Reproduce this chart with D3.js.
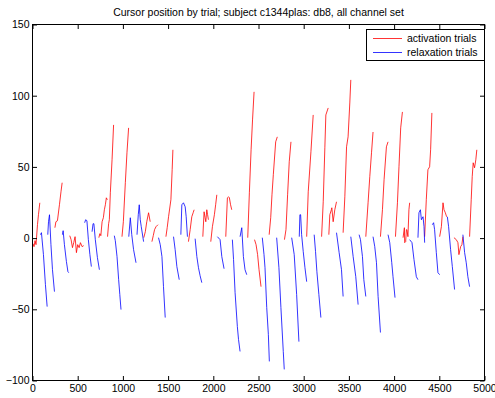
<!DOCTYPE html>
<html><head><meta charset="utf-8">
<script src="https://cdn.jsdelivr.net/npm/d3@7"></script>
<style>
body{margin:0;background:#fff}
svg{display:block}
text{font-family:"Liberation Sans",Arial,Helvetica,sans-serif;fill:#000}
</style>
</head><body>
<svg id="chart" width="495" height="398"></svg>
<script>
const titleText = "Cursor position by trial; subject c1344plas: db8, all channel set";
const xTicks = [0,500,1000,1500,2000,2500,3000,3500,4000,4500,5000];
const yTicks = [-100,-50,0,50,100,150];
const seriesNames = ["activation trials","relaxation trials"];
const seriesColors = ["#ff0000","#0000ff"];

// each trial: [sample, cursor position] pairs
const activationTrials = [
  [[6,-3.9],[17,-6.0],[28,-1.8],[39,-4.6],[55,9.4],[66,16.4],[81,24.8]],
  [[248,7.3],[259,11.5],[276,12.2],[298,23.4],[315,32.5],[328,38.9]],
  [[412,1.7],[427,-1.1],[442,-6.7],[456,-3.2],[471,1.0],[486,-10.2],[500,-4.6],[516,-6.7],[530,-3.2],[549,-6.0],[566,-5.3]],
  [[734,0.3],[745,3.1],[756,1.7],[770,11.5],[784,14.3],[795,19.9],[806,23.4],[817,28.3],[828,26.9]],
  [[830,1.0],[842,10.1],[850,12.9],[861,31.8],[880,55.0],[897,79.5]],
  [[990,1.0],[1005,11.5],[1027,38.9],[1045,59.9],[1063,77.4]],
  [[1231,0.3],[1248,4.5],[1264,11.5],[1284,17.8],[1302,11.5]],
  [[1321,-2.5],[1336,1.7],[1350,5.9],[1366,8.0],[1388,9.4]],
  [[1476,1.0],[1490,7.3],[1505,15.0],[1531,26.9],[1545,48.0],[1553,62.0]],
  [[1725,-2.5],[1744,5.9],[1762,15.0],[1777,17.8],[1788,19.9]],
  [[1884,1.0],[1898,18.5],[1909,14.3],[1917,11.5],[1928,19.9],[1937,16.4],[1946,12.9]],
  [[1972,-2.5],[1990,8.0],[2012,16.4],[2026,23.4],[2039,30.4]],
  [[2138,1.0],[2156,28.3],[2169,29.0],[2178,28.3],[2191,23.4],[2204,19.9]],
  [[2381,0.3],[2399,31.8],[2418,62.0],[2434,83.0],[2451,102.7]],
  [[2456,-1.1],[2473,-4.6],[2490,-11.6],[2506,-22.2],[2528,-34.1]],
  [[2618,2.4],[2635,14.3],[2649,30.4],[2664,44.5],[2690,67.6],[2708,71.1]],
  [[2787,-1.1],[2804,5.9],[2822,30.4],[2840,53.6],[2859,67.6]],
  [[3033,1.0],[3050,32.5],[3080,60.6],[3105,86.5]],
  [[3198,1.0],[3216,25.5],[3234,63.4],[3245,86.5],[3271,91.4]],
  [[3278,2.4],[3289,16.4],[3306,19.9],[3311,21.3],[3326,11.5],[3344,19.9],[3363,25.5]],
  [[3436,3.8],[3455,29.0],[3474,64.1],[3491,71.1],[3510,94.9],[3521,111.1]],
  [[3687,1.0],[3712,24.8],[3731,43.1],[3750,59.9],[3767,74.5]],
  [[3849,1.0],[3871,19.9],[3889,41.0],[3915,64.1],[3933,67.6]],
  [[4015,1.0],[4037,24.8],[4054,50.1],[4073,77.4],[4092,88.6]],
  [[4099,0.3],[4114,7.3],[4117,-3.2],[4128,-2.5],[4136,5.9],[4142,5.9],[4153,1.0],[4164,19.9],[4172,24.8]],
  [[4338,1.0],[4356,26.9],[4374,48.0],[4393,50.1],[4404,62.0],[4418,87.9]],
  [[4504,1.0],[4523,8.0],[4541,24.8],[4552,19.9],[4567,17.8],[4581,15.0]],
  [[4662,0.3],[4688,-1.1],[4706,-3.2],[4717,-11.6],[4736,-6.0],[4750,-4.6],[4761,1.0]],
  [[4835,1.0],[4853,26.9],[4864,43.1],[4875,52.9],[4890,49.4],[4904,55.0],[4915,62.0]]
];

const relaxationTrials = [
  [[88,2.4],[99,3.8],[121,-11.6],[143,-32.7],[162,-48.1]],
  [[169,2.4],[177,11.5],[188,16.4],[204,-4.6],[221,-22.2],[243,-37.6]],
  [[331,2.4],[339,5.2],[353,-4.6],[375,-16.4],[392,-23.6],[401,-24.3]],
  [[577,10.8],[588,12.9],[602,12.2],[618,-1.1],[635,-11.6],[651,-20.0]],
  [[659,4.5],[670,10.1],[679,10.1],[695,-1.1],[718,-13.7],[740,-22.2]],
  [[905,1.7],[916,-1.8],[935,-13.0],[953,-29.2],[966,-39.7],[979,-50.2]],
  [[1065,1.0],[1082,14.3],[1098,2.4],[1118,-8.1],[1145,-17.3]],
  [[1156,2.4],[1170,16.4],[1181,23.4],[1192,12.9],[1203,8.0],[1229,-2.5]],
  [[1394,0.3],[1413,-4.6],[1432,-13.0],[1449,-34.1],[1468,-55.8]],
  [[1560,1.0],[1578,-8.1],[1597,-20.0],[1623,-29.2]],
  [[1641,2.4],[1652,23.4],[1670,24.8],[1689,22.0],[1700,15.0],[1714,1.0]],
  [[1799,-0.4],[1818,-13.0],[1836,-20.8],[1854,-26.4],[1873,-31.3]],
  [[2045,1.0],[2075,-1.1],[2094,-13.0],[2119,-21.5]],
  [[2211,-1.1],[2224,-15.1],[2241,-38.3],[2266,-62.1],[2279,-71.2],[2296,-79.6]],
  [[2296,1.0],[2315,7.3],[2333,-13.0],[2351,-22.2],[2370,-25.7]],
  [[2542,0.3],[2561,-11.6],[2572,-20.8],[2591,-48.8],[2609,-67.6],[2620,-86.6]],
  [[2701,0.3],[2726,-20.8],[2748,-48.8],[2774,-79.6],[2785,-92.2]],
  [[2867,0.3],[2895,-11.6],[2922,-39.7],[2947,-72.7]],
  [[2951,1.0],[2958,16.4],[2966,16.4],[2977,2.4],[2995,-9.5],[3014,-20.8],[3033,-30.6]],
  [[3116,2.4],[3131,-9.5],[3146,-23.6],[3168,-39.7],[3190,-55.8]],
  [[3363,3.8],[3392,-10.2],[3418,-22.2],[3436,-41.0]],
  [[3521,1.0],[3547,-13.0],[3576,-27.1],[3602,-46.7]],
  [[3613,2.4],[3628,-1.1],[3650,-13.0],[3665,-29.2],[3687,-41.0]],
  [[3767,1.0],[3786,-6.0],[3805,-17.3],[3823,-41.0],[3849,-66.3]],
  [[3933,2.4],[3952,-3.2],[3974,-17.3],[3988,-27.1],[4010,-41.8]],
  [[4172,-1.1],[4198,-3.2],[4220,-15.1],[4246,-27.1],[4264,-29.2]],
  [[4264,0.3],[4275,17.8],[4291,19.9],[4302,12.9],[4320,15.0],[4331,8.0],[4338,-3.2]],
  [[4423,9.4],[4437,10.8],[4448,5.9],[4467,-10.2],[4485,-24.3],[4504,-25.7]],
  [[4589,15.0],[4603,8.0],[4625,-8.1],[4644,-20.0],[4669,-36.1]],
  [[4761,2.4],[4780,-10.2],[4798,-17.3],[4816,-27.1],[4835,-34.1]]
];

const svg = d3.select("#chart");
const x = d3.scaleLinear().domain([0,5000]).range([32.5,484.5]);
const y = d3.scaleLinear().domain([-100,150]).range([380.5,24.5]);
const tickLen = 4.5;

svg.append("rect").attr("width",495).attr("height",398).attr("fill","#fff");

const line = d3.line().x(d=>x(d[0])).y(d=>y(d[1]));

const plot = svg.append("g");
[activationTrials, relaxationTrials].forEach((trials,i)=>{
  plot.selectAll(null).data(trials).enter().append("path")
    .attr("d",line).attr("fill","none")
    .attr("stroke",seriesColors[i]).attr("stroke-width",0.8);
});

function styleAxis(g){
  g.select(".domain").remove();
  g.selectAll(".tick line").attr("stroke","#000");
  g.selectAll("text").attr("font-size",10.5).attr("fill","#000");
}
svg.append("g").attr("transform",`translate(0,${y(-100)})`)
  .call(d3.axisBottom(x).tickValues(xTicks).tickSizeInner(-tickLen).tickSizeOuter(0).tickPadding(4).tickFormat(d3.format("d")))
  .call(styleAxis);
svg.append("g").attr("transform",`translate(0,${y(150)})`)
  .call(d3.axisTop(x).tickValues(xTicks).tickSizeInner(-tickLen).tickSizeOuter(0).tickFormat(""))
  .call(styleAxis);
svg.append("g").attr("transform",`translate(${x(0)},0)`)
  .call(d3.axisLeft(y).tickValues(yTicks).tickSizeInner(-tickLen).tickSizeOuter(0).tickPadding(3).tickFormat(d3.format("d")))
  .call(styleAxis);
svg.append("g").attr("transform",`translate(${x(5000)},0)`)
  .call(d3.axisRight(y).tickValues(yTicks).tickSizeInner(-tickLen).tickSizeOuter(0).tickFormat(""))
  .call(styleAxis);

svg.append("rect").attr("x",x(0)).attr("y",y(150))
  .attr("width",x(5000)-x(0)).attr("height",y(-100)-y(150))
  .attr("fill","none").attr("stroke","#000").attr("stroke-width",1);

svg.append("text").attr("x",(x(0)+x(5000))/2).attr("y",16)
  .attr("text-anchor","middle").attr("font-size",10.5).text(titleText);

// legend
const lg = svg.append("g");
lg.append("rect").attr("x",366.5).attr("y",29.5).attr("width",118).attr("height",31)
  .attr("fill","#fff").attr("stroke","#000").attr("stroke-width",1);
seriesNames.forEach((name,i)=>{
  const yy = 38.5 + i*14;
  lg.append("line").attr("x1",373).attr("x2",402).attr("y1",yy).attr("y2",yy)
    .attr("stroke",seriesColors[i]).attr("stroke-width",0.8);
  lg.append("text").attr("x",407).attr("y",yy).attr("dy","0.35em")
    .attr("font-size",10.5).text(name);
});
</script>
</body></html>
